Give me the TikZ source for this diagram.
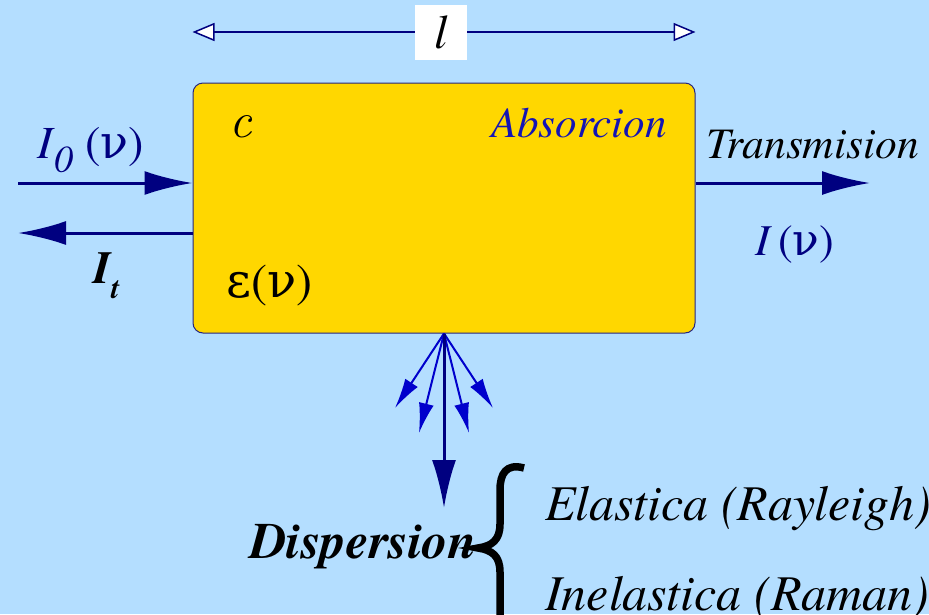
\documentclass[tikz,border=0pt]{standalone}
\usepackage{fontspec}
\setmainfont{texgyretermes}[Extension=.otf, UprightFont=*-regular, ItalicFont=*-italic,
  BoldFont=*-bold, BoldItalicFont=*-bolditalic]
\newfontfamily\lmfont{Latin Modern Roman}
\newfontfamily\grfont{DejaVu Serif}
\usepackage{tikz}
\usetikzlibrary{positioning, arrows.meta, calc}
\definecolor{fondo}{HTML}{B4DEFF}
\definecolor{oro}{HTML}{FFD700}
\definecolor{marino}{HTML}{000080}
\definecolor{azul}{HTML}{0000CC}
\definecolor{azulrot}{HTML}{1414B4}
\newcommand{\tam}[1]{\fontsize{#1}{#1}\selectfont}
\newcommand{\frec}{{\grfont\upshape ν}}

\begin{document}
\begin{tikzpicture}[x=1pt, y=-1pt,
    flecha/.style={marino, line width=3pt, -{Latex[length=48pt, width=24pt]}},
    rayo/.style={azul, line width=2pt, -{Latex[length=30pt, width=15pt]}},
    cota/.style={marino, line width=1.5pt},
    rotulo/.style={inner sep=0pt, anchor=base west}]
  \fill[fondo] (0,0) rectangle (929,614);
  \useasboundingbox (0,0) rectangle (929,614);
  \node[fill=oro, draw=marino!70!gray, line width=1pt, rounded corners=10pt,
        minimum width=502pt, minimum height=250pt] (medio) at (444,208) {};
  % longitud de la muestra
  \node[fill=white, minimum width=52pt, minimum height=55pt, inner sep=0pt,
        font=\tam{48}\itshape] (largo) at (441,32) {l};
  \draw[cota, {Triangle[open, fill=white, length=22pt, width=18pt]}-] (medio.north west |- largo) -- (largo.west);
  \draw[cota, -{Triangle[open, fill=white, length=22pt, width=18pt]}] (largo.east) -- (medio.north east |- largo);
  % haces
  \coordinate (entra) at (18,183);
  \coordinate (refl) at (18,233);
  \coordinate (sale) at (870,183);
  \draw[flecha] (entra) -- (entra -| medio.west);
  \draw[flecha] (refl -| medio.west) -- (refl);
  \draw[flecha] (sale -| medio.east) -- (sale);
  \coordinate (disp) at (444,508);
  \foreach \x/\y in {395/408, 419/433, 469/433, 493/408}
    \draw[rayo] (medio.south) -- (\x,\y);
  \draw[flecha] (medio.south) -- (disp);
  % rotulos
  \node[rotulo, marino, font=\tam{46}] (ienc) at (37,158)
    {\textit{I}\raisebox{-14pt}{\tam{38}\itshape 0} (\frec)};
  \node[rotulo, font=\tam{46}\bfseries\itshape] (itra) at (93,283)
    {I\raisebox{-15pt}{\tam{30}\bfseries\itshape t}};
  \node[rotulo, font=\tam{50}\lmfont\itshape] (conc) at (229,137) {c};
  \node[inner sep=0pt, anchor=base east, azulrot, font=\tam{43}\itshape] (abs) at (667,137) {Absorcion};
  \node[rotulo, font=\tam{48}] (eps) at (226,297) {{\grfont ε}(\frec)};
  \node[rotulo, font=\tam{43.5}\itshape] (trans) at (706,158) {Transmision};
  \node[rotulo, marino, font=\tam{44}] (isal) at (755,255) {\textit{I}\hspace{6pt}(\frec)};
  \node[inner sep=0pt, anchor=base east, font=\tam{51}\bfseries\itshape] (disper) at (477,558) {Dispersion};
  \node[rotulo, font=\tam{50}\itshape] (elas) at (545,520) {Elastica (Rayleigh)};
  \node[rotulo, font=\tam{50}\itshape] (inel) at (545,610) {Inelastica (Raman)};
  \draw[line width=7.5pt] (524,468) .. controls (506,463) and (500,474) .. (500,490) -- (500,524)
    .. controls (500,540) and (492,546) .. (478,548)
    .. controls (492,550) and (500,556) .. (500,572) -- (500,620);
\end{tikzpicture}
\end{document}
